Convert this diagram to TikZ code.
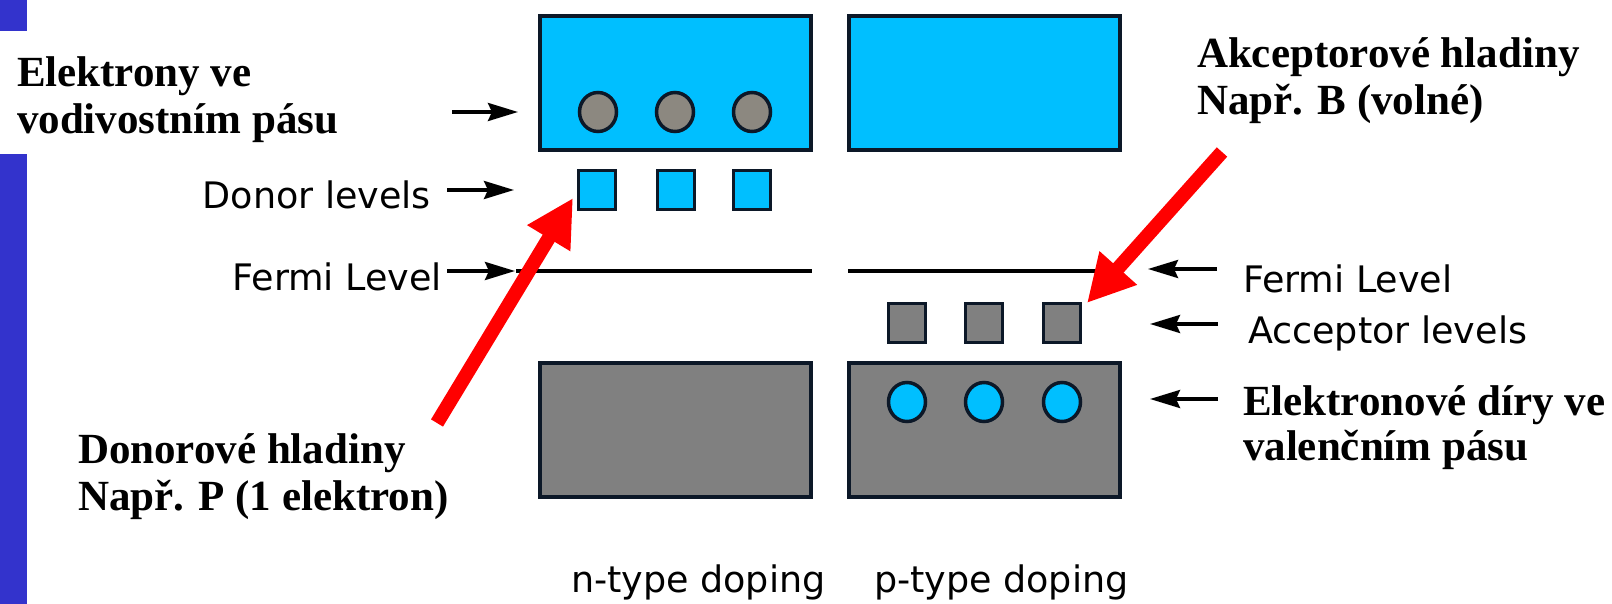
\documentclass[tikz,border=0pt]{standalone}
\usepackage{fontspec}
\setmainfont{Liberation Serif}
\newfontfamily\lblfont{DejaVu Sans}
\usetikzlibrary{arrows.meta,shapes.geometric}
\definecolor{bandblue}{RGB}{0,191,255}
\definecolor{edgecol}{RGB}{12,24,40}
\definecolor{bandgray}{RGB}{128,128,128}
\definecolor{elgray}{RGB}{140,136,128}
\definecolor{barblue}{RGB}{51,51,204}
\definecolor{arrred}{RGB}{255,0,0}
\begin{document}
\begin{tikzpicture}[x=1pt,y=-1pt,
  bandbox/.style={draw=edgecol,line width=4pt,inner sep=0pt,outer sep=0pt,minimum width=271pt,minimum height=134pt},
  lvlsq/.style={draw=edgecol,line width=3pt,inner sep=0pt,outer sep=0pt,minimum width=37pt,minimum height=39pt},
  dot/.style={ellipse,draw=edgecol,line width=3.5pt,inner sep=0pt,outer sep=0pt,minimum width=37pt,minimum height=39pt},
  lbl/.style={inner sep=0pt,outer sep=0pt,font={\lblfont\fontsize{36.5pt}{40pt}\selectfont}},
  cz/.style={inner sep=0pt,outer sep=0pt,font={\fontsize{43pt}{46pt}\selectfont\bfseries}},
  blkarrow/.style={line width=3.5pt,-{Stealth[length=30pt,width=18pt,inset=4pt]}},
  fermiline/.style={line width=3.5pt},
  redarrow/.style={draw=arrred,line width=14pt,-{Triangle[length=47pt,width=47pt]},arrred}
]
\useasboundingbox (0,0) rectangle (1612,604);
% left blue bar
\fill[barblue] (0,0) rectangle (27,31);
\fill[barblue] (0,154) rectangle (27,604);

% bands
\node[bandbox,fill=bandblue] (cbn) at (675,83) {};
\node[bandbox,fill=bandblue] (cbp) at (984.5,83) {};
\node[bandbox,fill=bandgray] (vbn) at (675,429.5) {};
\node[bandbox,fill=bandgray] (vbp) at (984.5,430) {};

% electrons in conduction band
\node[dot,fill=elgray] (e1) at (598,112) {};
\node[dot,fill=elgray] (e2) at (675,112) {};
\node[dot,fill=elgray] (e3) at (752,112) {};
% donor levels
\node[lvlsq,fill=bandblue] (d1) at (597,190) {};
\node[lvlsq,fill=bandblue] (d2) at (676,190) {};
\node[lvlsq,fill=bandblue] (d3) at (752,190) {};
% acceptor levels
\node[lvlsq,fill=bandgray] (a1) at (907,323) {};
\node[lvlsq,fill=bandgray] (a2) at (984,323) {};
\node[lvlsq,fill=bandgray] (a3) at (1062,323) {};
% holes in valence band
\node[dot,fill=bandblue] (h1) at (907,402) {};
\node[dot,fill=bandblue] (h2) at (984,402) {};
\node[dot,fill=bandblue] (h3) at (1062,402) {};

% Fermi levels
\coordinate (fnl) at (516,271);
\coordinate (fnr) at (812,271);
\coordinate (fpl) at (848,271);
\coordinate (fpr) at (1121,271);
\draw[fermiline] (fnl) -- (fnr);
\draw[fermiline] (fpl) -- (fpr);

% English labels
\node[lbl,anchor=base east] (tdon) at (431,209) {Donor levels};
\node[lbl,anchor=base east] (tfl) at (442,290) {Fermi Level};
\node[lbl,anchor=base west] (tfr) at (1243,292) {Fermi Level};
\node[lbl,anchor=base west] (tacc) at (1248,343) {Acceptor levels};
\node[lbl,anchor=base west] (tn) at (571,592) {n-type doping};
\node[lbl,anchor=base west] (tp) at (874,592) {p-type doping};

% Czech labels
\node[cz,anchor=base west] (el1) at (17,87) {Elektrony ve};
\node[cz,anchor=base west] (el2) at (17,134) {vodivostním pásu};
\node[cz,anchor=base west] (ak1) at (1197,68) {Akceptorové hladiny};
\node[cz,anchor=base west] (ak2) at (1197,115) {Např. B (volné)};
\node[cz,anchor=base west] (dn1) at (78,463) {Donorové hladiny};
\node[cz,anchor=base west] (dn2) at (78,510) {Např. P (1 elektron)};
\node[cz,anchor=base west] (dr1) at (1243,415) {Elektronové díry ve};
\node[cz,anchor=base west] (dr2) at (1243,460) {valenčním pásu};

% black pointer arrows
\coordinate (pe0) at (452,112);  \coordinate (pe1) at (518,112);
\coordinate (pd0) at (447,190);  \coordinate (pd1) at (514,190);
\coordinate (pf0) at (447,271);  \coordinate (pf1) at (515,271);
\coordinate (qf0) at (1217,269); \coordinate (qf1) at (1148,269);
\coordinate (qa0) at (1218,324); \coordinate (qa1) at (1150,324);
\coordinate (qh0) at (1218,399); \coordinate (qh1) at (1150,399);
\draw[blkarrow] (pe0) -- (pe1);
\draw[blkarrow] (pd0) -- (pd1);
\draw[blkarrow] (pf0) -- (pf1);
\draw[blkarrow] (qf0) -- (qf1);
\draw[blkarrow] (qa0) -- (qa1);
\draw[blkarrow] (qh0) -- (qh1);

% red arrows
\coordinate (rd0) at (437,423); \coordinate (rd1) at (573,198);
\coordinate (ra0) at (1222,152); \coordinate (ra1) at (1087,303);
\draw[redarrow] (rd0) -- (rd1);
\draw[redarrow] (ra0) -- (ra1);
\end{tikzpicture}
\end{document}
